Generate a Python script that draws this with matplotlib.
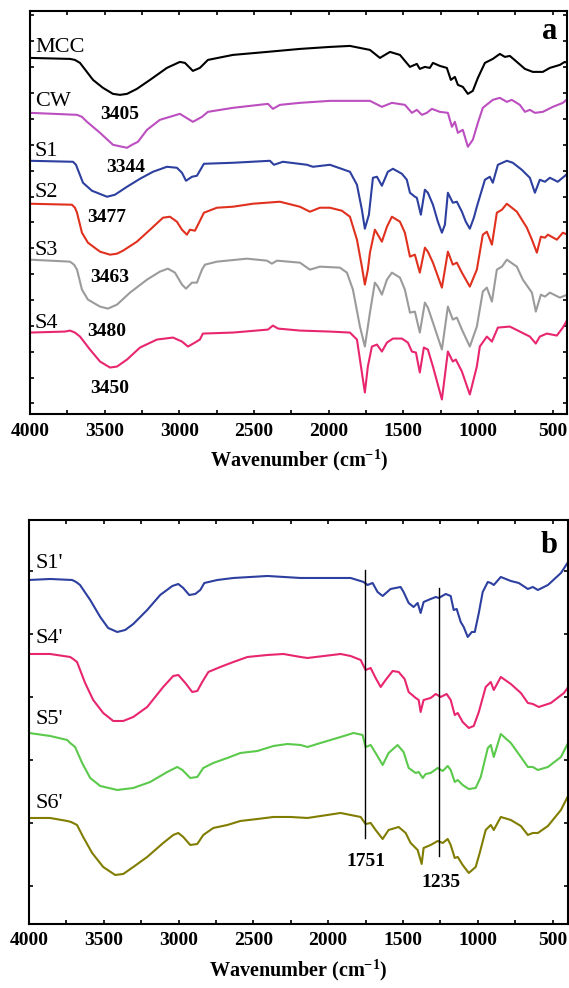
import matplotlib
matplotlib.use("Agg")
import matplotlib.pyplot as plt
from matplotlib.ticker import MultipleLocator

plt.rcParams['font.family'] = ['Liberation Serif', 'DejaVu Serif']
plt.rcParams['mathtext.fontset'] = 'custom'
plt.rcParams['mathtext.rm'] = 'Liberation Serif'
plt.rcParams['mathtext.bf'] = 'Liberation Serif:bold'
plt.rcParams['mathtext.default'] = 'bf'

# ---------------- Panel a data (wavenumber, arbitrary transmittance) ----------------
mcc_w = [4000, 3732, 3699, 3665, 3578, 3511, 3444, 3397, 3350, 3284, 3196, 3083, 2996, 2962, 2909, 2862, 2808,
         2641, 2413, 2192, 1991, 1857, 1723, 1656, 1589, 1522, 1455, 1409, 1389, 1355, 1322, 1301,
         1255, 1208, 1181, 1154, 1134, 1101, 1067, 1034, 1000, 953, 900, 853, 819, 786, 739, 685,
         632, 565, 518, 451, 418, 400]
mcc_t = [357, 356, 355, 352, 335, 327, 321, 320, 321, 326, 335, 347, 353, 352, 344, 347, 355,
         360, 363, 366, 368, 369, 365, 357, 363, 360, 348, 351, 346, 348, 347, 352,
         349, 347, 335, 338, 330, 328, 321, 324, 337, 352, 356, 361, 358, 359, 353, 346,
         343, 343, 347, 350, 353, 352]

cw_w = [4000, 3685, 3652, 3618, 3531, 3444, 3350, 3317, 3277, 3216, 3130, 2996, 2909, 2848, 2808, 2641,
        2406, 2373, 2326, 2192, 1991, 1723, 1643, 1576, 1489, 1442, 1409, 1375, 1342, 1308, 1255,
        1201, 1174, 1154, 1134, 1101, 1067, 1034, 1000, 967, 900, 853, 806, 773, 719, 685, 652,
        618, 565, 498, 431, 400]
cw_t = [302, 300, 298, 293, 282, 270, 267, 270, 273, 285, 295, 301, 293, 298, 303, 307,
        311, 306, 310, 312, 314, 314, 308, 312, 310, 302, 305, 300, 302, 306, 303,
        302, 288, 293, 282, 285, 268, 275, 292, 307, 315, 317, 313, 315, 310, 303, 305,
        302, 303, 308, 312, 316]

s1_w = [4000, 3712, 3692, 3679, 3645, 3585, 3484, 3431, 3350, 3263, 3176, 3083, 3016, 2982, 2955, 2915,
        2882, 2835, 2641, 2393, 2366, 2306, 2145, 2105, 1991, 1857, 1810, 1777, 1757, 1730, 1703,
        1676, 1643, 1603, 1569, 1509, 1476, 1455, 1422, 1409, 1382, 1355, 1335, 1301, 1268, 1241,
        1221, 1201, 1168, 1141, 1107, 1081, 1054, 1027, 1007, 973, 953, 920, 900, 866, 806, 766,
        706, 652, 618, 585, 551, 518, 465, 400]
s1_t = [254, 253, 250, 245, 232, 224, 218, 220, 228, 236, 243, 248, 247, 242, 234, 238,
        239, 251, 252, 254, 250, 253, 250, 248, 250, 243, 230, 205, 186, 200, 237,
        238, 229, 243, 246, 241, 235, 222, 218, 217, 200, 225, 222, 210, 193, 182,
        190, 222, 212, 213, 203, 193, 186, 197, 208, 225, 235, 238, 232, 250, 254, 252,
        245, 237, 222, 235, 233, 237, 233, 241]

s2_w = [4000, 3719, 3699, 3685, 3652, 3612, 3531, 3464, 3417, 3377, 3284, 3196, 3109, 3063, 3016, 2982, 2949,
        2929, 2895, 2868, 2835, 2748, 2641, 2507, 2326, 2192, 2125, 2058, 1991, 1911, 1857, 1810,
        1777, 1757, 1737, 1723, 1690, 1670, 1643, 1609, 1576, 1522, 1489, 1455, 1422, 1389, 1355,
        1335, 1301, 1241, 1201, 1168, 1141, 1107, 1054, 1007, 967, 940, 906, 873, 839, 806, 739,
        672, 638, 605, 578, 551, 531, 471, 431, 400]
s2_t = [211, 210, 207, 202, 182, 172, 163, 160, 161, 164, 173, 185, 197, 198, 193, 185, 180,
        185, 184, 192, 202, 207, 208, 211, 213, 208, 203, 207, 207, 204, 198, 175,
        148, 130, 145, 162, 185, 180, 173, 188, 198, 193, 182, 158, 160, 142, 167,
        163, 152, 127, 163, 150, 152, 142, 128, 145, 180, 183, 170, 202, 205, 211, 203,
        187, 175, 162, 178, 177, 180, 175, 182, 180]

s3_w = [4000, 3732, 3705, 3685, 3652, 3612, 3531, 3478, 3417, 3330, 3216, 3130, 3076, 3029, 2982, 2955,
        2915, 2882, 2848, 2828, 2748, 2547, 2413, 2380, 2346, 2192, 2125, 2058, 1924, 1877, 1837,
        1790, 1757, 1723, 1690, 1670, 1643, 1609, 1576, 1522, 1489, 1455, 1422, 1389, 1355, 1335,
        1301, 1241, 1201, 1168, 1141, 1107, 1054, 1007, 967, 940, 906, 873, 839, 806, 739, 699,
        638, 612, 578, 551, 518, 451, 400]
s3_t = [155, 153, 150, 145, 125, 115, 108, 106, 110, 122, 135, 143, 146, 142, 130, 126,
        132, 132, 145, 150, 153, 156, 154, 151, 154, 152, 145, 148, 147, 142, 125,
        88, 68, 102, 132, 128, 120, 135, 142, 137, 125, 102, 103, 82, 112, 107,
        92, 65, 108, 95, 97, 85, 68, 88, 123, 127, 113, 145, 148, 155, 148, 135,
        122, 103, 120, 118, 122, 117, 120]

s4_w = [4000, 3766, 3732, 3699, 3665, 3598, 3531, 3464, 3417, 3350, 3263, 3150, 3042, 2982, 2942,
        2895, 2862, 2842, 2641, 2406, 2373, 2339, 2192, 1991, 1857, 1810, 1790, 1757, 1737, 1710,
        1676, 1643, 1609, 1569, 1509, 1469, 1442, 1415, 1389, 1362, 1335, 1301, 1241, 1201, 1168,
        1148, 1107, 1054, 1007, 987, 940, 906, 866, 786, 719, 652, 612, 585, 538, 471, 431, 400]
s4_t = [82, 83, 84, 82, 78, 65, 53, 47, 48, 55, 67, 75, 77, 73, 68,
        72, 75, 81, 82, 85, 89, 86, 84, 83, 82, 75, 55, 22, 48, 68,
        70, 63, 72, 76, 76, 72, 63, 62, 42, 67, 65, 48, 15, 63, 53,
        55, 43, 20, 48, 68, 78, 73, 87, 88, 83, 78, 71, 78, 81, 79, 87, 95]

names_a = ['MCC', 'CW', 'S1', 'S2', 'S3', 'S4']
name_y_a = [363, 309, 259, 218, 160, 87]
colors_a = ['#000000', '#BC4FC0', '#2D3F9F', '#E0311F', '#9B9B9B', '#E8266F']
peaks_a = ['3405', '3344', '3477', '3463', '3480', '3450']
peak_x_a = [3397, 3357, 3484, 3464, 3484, 3464]
peak_y_a = [296, 243, 193, 133, 79, 21]

# ---------------- Panel b data ----------------
s1p_w = [4000, 3859, 3712, 3685, 3659, 3591, 3524, 3471, 3410, 3357, 3303, 3210, 3123, 3042, 3002, 2969,
         2929, 2889, 2855, 2828, 2741, 2634, 2406, 2185, 1984, 1850, 1763, 1737, 1703, 1670, 1636,
         1583, 1516, 1496, 1462, 1429, 1402, 1382, 1362, 1315, 1281, 1261, 1214, 1181, 1161, 1141,
         1114, 1094, 1067, 1040, 1020, 993, 967, 933, 913, 893, 846, 779, 726, 665, 632, 598,
         531, 444, 400]
s1p_t = [344, 345, 344, 342, 339, 324, 307, 296, 292, 294, 300, 314, 329, 338, 340, 336,
         329, 330, 334, 341, 344, 346, 348, 346, 346, 346, 342, 339, 341, 332, 328,
         335, 337, 332, 321, 317, 321, 311, 322, 325, 327, 326, 330, 328, 314, 315,
         302, 297, 287, 292, 292, 311, 332, 342, 341, 339, 347, 343, 341, 335, 337, 334,
         339, 351, 361]

s4p_w = [4000, 3859, 3725, 3705, 3679, 3625, 3571, 3504, 3437, 3370, 3303, 3210, 3103, 3036, 3002, 2955,
         2909, 2875, 2842, 2801, 2721, 2634, 2540, 2406, 2299, 2185, 2138, 1917, 1850, 1783, 1750,
         1716, 1683, 1649, 1616, 1569, 1529, 1489, 1462, 1415, 1395, 1382, 1362, 1315, 1281, 1248,
         1208, 1181, 1154, 1134, 1101, 1060, 1027, 993, 947, 913, 893, 846, 779, 712, 665, 632,
         592, 511, 424, 400]
s4p_t = [270, 270, 267, 265, 262, 241, 224, 211, 203, 203, 207, 217, 237, 248, 249, 241,
         232, 233, 242, 252, 257, 262, 267, 269, 270, 267, 266, 270, 268, 264, 254,
         256, 246, 237, 244, 253, 252, 245, 232, 226, 224, 212, 224, 226, 230, 227,
         230, 224, 209, 211, 202, 196, 198, 212, 237, 242, 234, 247, 240, 231, 221, 220,
         217, 221, 231, 236]

s5p_w = [4000, 3859, 3745, 3725, 3692, 3645, 3591, 3524, 3410, 3303, 3190, 3076, 3009, 2975, 2922, 2875,
         2835, 2768, 2674, 2587, 2473, 2366, 2272, 2185, 2138, 2051, 1917, 1830, 1770, 1750, 1716,
         1683, 1636, 1596, 1536, 1496, 1462, 1415, 1395, 1368, 1348, 1315, 1268, 1234, 1201, 1181,
         1154, 1134, 1101, 1060, 1014, 980, 933, 913, 893, 846, 779, 712, 665, 632, 598, 531,
         444, 400]
s5p_t = [191, 188, 184, 181, 177, 161, 146, 138, 134, 136, 142, 152, 157, 154, 146, 147,
         156, 161, 166, 171, 173, 178, 180, 179, 177, 181, 187, 191, 189, 177, 179,
         171, 159, 171, 179, 172, 156, 151, 152, 146, 150, 151, 156, 153, 158, 154,
         142, 144, 139, 135, 136, 147, 176, 179, 167, 190, 181, 167, 157, 157, 154, 157,
         167, 180]

s6p_w = [4000, 3859, 3745, 3719, 3679, 3638, 3578, 3504, 3424, 3370, 3303, 3210, 3103, 3036, 3002, 2969,
         2922, 2875, 2835, 2768, 2674, 2587, 2473, 2366, 2252, 2138, 1917, 1783, 1750, 1716, 1683,
         1636, 1596, 1529, 1482, 1449, 1402, 1375, 1362, 1315, 1268, 1234, 1201, 1181, 1154, 1134,
         1101, 1060, 1014, 987, 947, 913, 893, 846, 779, 712, 665, 632, 598, 531, 444, 400]
s6p_t = [106, 106, 103, 102, 99, 87, 71, 57, 49, 50, 57, 67, 81, 89, 91, 87,
         79, 80, 89, 96, 99, 103, 105, 107, 107, 106, 111, 107, 100, 101, 94,
         85, 94, 97, 91, 81, 74, 60, 76, 79, 83, 81, 85, 79, 66, 67,
         59, 51, 57, 71, 94, 99, 94, 107, 104, 98, 89, 91, 91, 98, 114, 127]

names_b = ["S1'", "S4'", "S5'", "S6'"]
name_y_b = [356, 281, 200, 116]
colors_b = ['#2D3F9F', '#E8266F', '#5BC94B', '#807D00']
mark_w = [1751, 1258]
mark_lo = [86, 68]
mark_hi = [354, 336]
mark_labels = ['1751', '1235']
mark_label_x = [1750, 1247]
mark_label_y = [58, 37]

# ---------------- Figure ----------------
fig = plt.figure(figsize=(5.69, 9.88), dpi=100)
ax_a = fig.add_axes([0.0527, 0.5805, 0.9446, 0.4084])
ax_b = fig.add_axes([0.0510, 0.0648, 0.9464, 0.4089])

curves_a = [(mcc_w, mcc_t), (cw_w, cw_t), (s1_w, s1_t), (s2_w, s2_t), (s3_w, s3_t), (s4_w, s4_t)]
for (w, t), c in zip(curves_a, colors_a):
    ax_a.plot(w, t, color=c, lw=1.5, solid_joinstyle='round')
for n, y in zip(names_a, name_y_a):
    ax_a.text(3967, y, n, fontsize=16, ha='left', va='baseline')
for p, x, y in zip(peaks_a, peak_x_a, peak_y_a):
    ax_a.text(x, y, p, fontsize=14, fontweight='bold', ha='center', va='baseline')
ax_a.text(470, 376, 'a', fontsize=22, fontweight='bold', ha='right', va='baseline')

curves_b = [(s1p_w, s1p_t), (s4p_w, s4p_t), (s5p_w, s5p_t), (s6p_w, s6p_t)]
for (w, t), c in zip(curves_b, colors_b):
    ax_b.plot(w, t, color=c, lw=1.5, solid_joinstyle='round')
for n, y in zip(names_b, name_y_b):
    ax_b.text(3960, y, n, fontsize=16, ha='left', va='baseline')
for xw, lo, hi in zip(mark_w, mark_lo, mark_hi):
    ax_b.plot([xw, xw], [lo, hi], color='black', lw=1.0)
for lab, x, y in zip(mark_labels, mark_label_x, mark_label_y):
    ax_b.text(x, y, lab, fontsize=14, fontweight='bold', ha='center', va='baseline')
ax_b.text(470, 371, 'b', fontsize=22, fontweight='bold', ha='right', va='baseline')

for ax, yoff, ystep in [(ax_a, 11, 25.9), (ax_b, 38, 63)]:
    ax.set_xlim(4000, 400)
    ax.set_ylim(0, 404)
    ax.xaxis.set_major_locator(MultipleLocator(500))
    ax.xaxis.set_minor_locator(MultipleLocator(250))
    ax.yaxis.set_major_locator(MultipleLocator(ystep, offset=yoff))
    ax.tick_params(axis='both', which='both', direction='in', top=True, right=True,
                   length=3, width=1.2, labelsize=14, pad=6)
    ax.tick_params(axis='y', which='both', labelleft=False)
    for lab in ax.get_xticklabels():
        lab.set_fontweight('bold')
    for sp in ax.spines.values():
        sp.set_linewidth(1.5)
    ax.set_xlabel('Wavenumber (cm$^{-1}$)', fontsize=14.5, fontweight='bold', labelpad=6)

fig.savefig('out.png', dpi=100)
